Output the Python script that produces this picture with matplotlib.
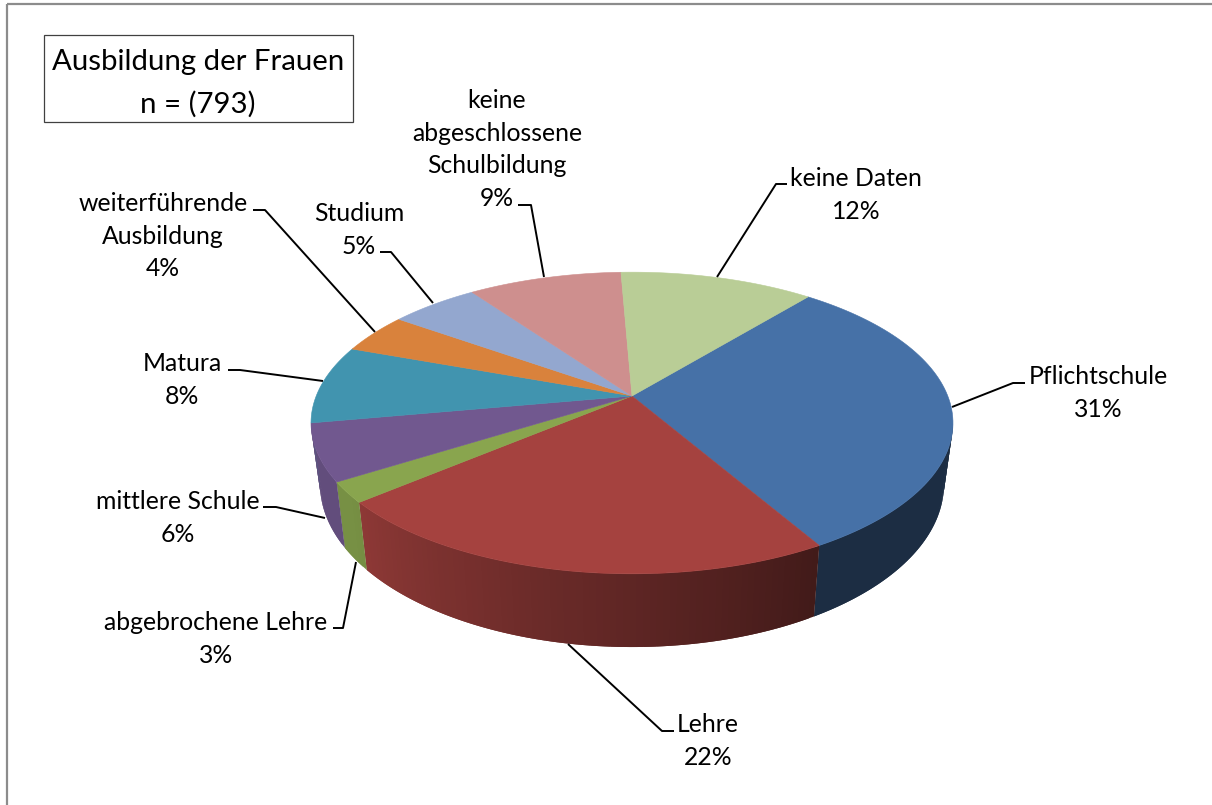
#!/usr/bin/env python3
# -*- coding: utf-8 -*-
import numpy as np
import matplotlib
matplotlib.use('Agg')
import matplotlib.pyplot as plt
from matplotlib.collections import PolyCollection
from matplotlib.patches import Polygon, Rectangle

# slice shares, clockwise from Pflichtschule
categories = ['Pflichtschule', 'Lehre', 'abgebrochene\u00a0Lehre', 'mittlere Schule', 'Matura',
              'weiterführende\nAusbildung', 'Studium', 'keine\nabgeschlossene\nSchulbildung', 'keine Daten']
values = [30.7, 22.2, 2.2, 6.1, 8.4, 4.3, 5.3, 9.2, 11.6]
percent_labels = ['31%', '22%', '3%', '6%', '8%', '4%', '5%', '9%', '12%']
colors = ['#4671A7', '#A5423F', '#89A54E', '#71588F', '#4194AF', '#D9823C', '#93A7CF', '#CE8F8E', '#B9CD96']

title_lines = 'Ausbildung der Frauen\nn = (793)'

# label centre (x, y of first line), in pixels
label_pos = [(1098, 376.5), (708, 724.5), (216, 622.5), (178, 501.5), (182, 363.5),
             (163, 203.5), (359, 213.5), (497, 100.5), (856, 178.5)]
# leader lines, from the slice rim to the label
leaders = [[(952, 407), (1013, 383), (1025, 383)],
           [(568, 644), (662, 731), (674, 731)],
           [(356, 562), (343, 628), (333, 628)],
           [(325, 518), (276, 507), (263, 507)],
           [(323, 381), (240, 370), (228, 370)],
           [(375, 332), (265, 210), (253, 210)],
           [(433, 303), (391, 252), (380, 252)],
           [(544, 277), (531, 205), (518, 205)],
           [(717, 277), (776, 184), (787, 184)]]

START = 39.4
CX, CY = 632, 396
P, A, B = 0.179, 146.0, 315.8
LINE_H = 32.7


def project(phi):
    # phi in degrees clockwise from the back of the disc
    u = np.sin(np.radians(phi))
    v = -np.cos(np.radians(phi))
    d = 1 - P * v
    return CX + B * u / d, CY + A * v / d


def project_bottom(phi):
    x, y = project(phi)
    return CX + 0.972 * (x - CX), 455 + 1.08 * (y - CY)


def shade(phi):
    return float(np.clip(0.4 + (phi - 150) / 79.0 * 0.45, 0.4, 0.87))


plt.rcParams['font.family'] = ['Lato', 'DejaVu Sans']
fig = plt.figure(figsize=(12.12, 8.05), dpi=100)
ax = fig.add_axes([0, 0, 1, 1])
ax.set_xlim(0, 1212)
ax.set_ylim(805, 0)
ax.axis('off')

# chart frame runs off the right and bottom of the picture
ax.add_patch(Rectangle((6.5, 4.5), 1300, 900, fill=False, edgecolor='#8C8C8C', linewidth=1.6))

edges = START + np.cumsum([0] + values) * 3.6

# side wall, thin quads so the shading can change along the rim
# each quad runs on under the next one, that hides the seams
quads, quad_colors = [], []
for i, col in enumerate(colors):
    base = np.array(matplotlib.colors.to_rgb(col))
    a0, a1 = max(edges[i], 100), min(edges[i + 1], 260)
    if a1 <= a0:
        continue
    steps = max(2, int((a1 - a0) / 1.0))
    grid = np.linspace(a0, a1, steps + 1)
    for j in range(steps):
        p0, p1 = grid[j], grid[j + 1]
        p_end = grid[min(j + 2, steps)]
        x0, y0 = project(p0)
        x1, y1 = project(p_end)
        x2, y2 = project_bottom(p_end)
        x3, y3 = project_bottom(p0)
        quads.append([(x0, y0), (x1, y1), (x2, y2), (x3, y3)])
        quad_colors.append(base * shade((p0 + p1) / 2))
ax.add_collection(PolyCollection(quads, facecolors=quad_colors, edgecolors='none', zorder=2))

# top of the pie
for i, col in enumerate(colors):
    arc = np.linspace(edges[i], edges[i + 1], 80)
    xs, ys = project(arc)
    pts = [(CX, CY)] + list(zip(xs, ys))
    ax.add_patch(Polygon(pts, closed=True, facecolor=col, edgecolor=col, linewidth=0.4, zorder=3))

for line in leaders:
    xs, ys = zip(*line)
    ax.plot(xs, ys, color='black', linewidth=1.4, zorder=4, solid_capstyle='butt')

for name, pct, (x, y) in zip(categories, percent_labels, label_pos):
    for k, txt in enumerate(name.split('\n') + [pct]):
        ax.text(x, y + k * LINE_H, txt, ha='center', va='center', fontsize=17.8, color='black', zorder=5)

# title box
ax.add_patch(Rectangle((43.5, 35.5), 309.5, 86.5, facecolor='white', edgecolor='#404040', linewidth=0.9, zorder=5))
for k, txt in enumerate(title_lines.split('\n')):
    ax.text(198, 62 + k * 42, txt, ha='center', va='center', fontsize=21.2, color='black', zorder=6)

fig.savefig('out.png', dpi=100)
